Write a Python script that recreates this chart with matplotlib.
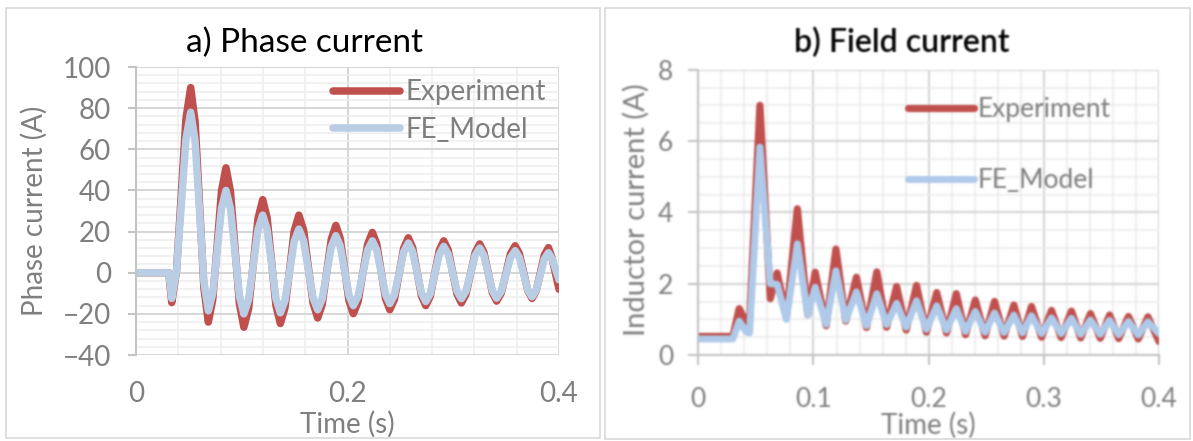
import numpy as np
import matplotlib
matplotlib.use("Agg")
import matplotlib.pyplot as plt
from matplotlib.ticker import MultipleLocator
from matplotlib.patches import Rectangle

plt.rcParams['font.family'] = ['Lato', 'DejaVu Sans']

# ---- a) Phase current (A) versus time (s) ----
time_a = [0, 0.031, 0.0338, 0.0383, 0.0428, 0.0472, 0.0517, 0.0559, 0.0601,
          0.0642, 0.0684, 0.0726, 0.0768, 0.0809, 0.0851, 0.0893, 0.0936,
          0.0978, 0.102, 0.1065, 0.1109, 0.1154, 0.1198, 0.124, 0.1282, 0.1323,
          0.1365, 0.1409, 0.1453, 0.1496, 0.154, 0.1585, 0.1629, 0.1674,
          0.1718, 0.1761, 0.1804, 0.1847, 0.189, 0.1931, 0.1973, 0.2014,
          0.2055, 0.21, 0.2145, 0.219, 0.2235, 0.2276, 0.2318, 0.2359, 0.240,
          0.2444, 0.2488, 0.2531, 0.2575, 0.2616, 0.2658, 0.2699, 0.274,
          0.2783, 0.2825, 0.2868, 0.291, 0.2952, 0.2994, 0.3035, 0.3077, 0.312,
          0.3164, 0.3207, 0.325, 0.329, 0.333, 0.337, 0.341, 0.3454, 0.3498,
          0.3541, 0.3585, 0.3625, 0.3665, 0.3705, 0.3745, 0.3784, 0.3823,
          0.3861, 0.390, 0.3935, 0.4]
phase_exp = [0, 0, -14.5, 0.8, 37.8, 74.7, 90, 73.3, 33, -7.3, -24, -13.0,
             13.5, 40.0, 51, 39.6, 12.3, -15.1, -26.5, -17.4, 4.5, 26.4, 35.5,
             26.7, 5.4, -15.9, -24.7, -17.0, 1.7, 20.3, 28, 20.7, 3, -14.7, -22,
             -15.4, 0.5, 16.4, 23, 16.7, 1.6, -13.6, -19.9, -14.1, -0.2, 13.8,
             19.6, 14.1, 0.8, -12.5, -18, -12.9, -0.5, 11.9, 17, 12.2, 0.5,
             -11.2, -16, -11.4, -0.3, 10.9, 15.5, 11.1, 0.4, -10.3, -14.7,
             -10.5, -0.4, 9.8, 14, 9.9, 0.1, -9.7, -13.8, -9.9, -0.4, 9.2, 13.1,
             9.3, 0.3, -8.7, -12.5, -8.9, -0.2, 8.6, 12.2, 7.0, -8]
phase_fe = [0, 0, -12.5, 0.8, 32.8, 64.8, 78, 63.9, 29.8, -4.4, -18.5, -9.9,
            10.8, 31.4, 40, 31.2, 10, -11.2, -20, -13, 4, 21, 28, 21.0, 4.3,
            -12.5, -19.5, -13.5, 0.9, 15.2, 21.2, 15.5, 1.6, -12.3, -18, -12.7,
            0, 12.7, 18, 13, 1, -11, -16, -11.4, -0.3, 10.9, 15.5, 11.0, 0.3,
            -10.5, -15, -10.7, -0.3, 10.1, 14.4, 10.2, 0.2, -9.8, -14, -10.1,
            -0.6, 8.9, 12.8, 9.1, 0.1, -8.9, -12.6, -9.0, -0.3, 8.4, 12, 8.4,
            -0.2, -8.8, -12.4, -9.0, -0.9, 7.3, 10.7, 7.4, -0.5, -8.4, -11.7,
            -8.6, -1, 6.6, 9.7, 6.7, -3.4]
xticks_a = [0, 0.2, 0.4]
xtick_labels_a = ['0', '0.2', '0.4']
yticks_a = [-40, -20, 0, 20, 40, 60, 80, 100]

# ---- b) Field (inductor) current (A) versus time (s) ----
time_b = [0, 0.030, 0.0355, 0.0415, 0.0445, 0.0535, 0.0625, 0.0685, 0.0765,
          0.086, 0.095, 0.1015, 0.111, 0.1195, 0.128, 0.1373, 0.146, 0.155,
          0.1635, 0.1722, 0.1805, 0.1895, 0.198, 0.207, 0.2155, 0.224, 0.232,
          0.2405, 0.249, 0.2572, 0.2655, 0.274, 0.2815, 0.2893, 0.298, 0.3067,
          0.315, 0.324, 0.332, 0.3405, 0.349, 0.3571, 0.365, 0.3735, 0.382,
          0.3904, 0.4]
field_exp = [0.52, 0.52, 1.3, 0.92, 0.95, 7.0, 1.58, 2.3, 1.08, 4.1, 1.13, 2.32,
             0.82, 2.97, 0.95, 2.18, 0.77, 2.33, 0.78, 1.92, 0.70, 1.95, 0.64,
             1.75, 0.62, 1.72, 0.57, 1.54, 0.54, 1.5, 0.53, 1.4, 0.52, 1.36,
             0.5, 1.25, 0.49, 1.23, 0.48, 1.16, 0.47, 1.12, 0.46, 1.08, 0.45,
             1.07, 0.38]
field_fe = [0.45, 0.45, 0.95, 0.65, 0.62, 5.83, 2.0, 1.98, 1.0, 3.12, 1.12, 1.9,
            0.86, 2.36, 0.98, 1.77, 0.82, 1.72, 0.85, 1.45, 0.78, 1.52, 0.72,
            1.38, 0.7, 1.3, 0.66, 1.22, 0.64, 1.18, 0.63, 1.12, 0.62, 1.1, 0.6,
            1.04, 0.6, 1.03, 0.58, 0.98, 0.58, 0.97, 0.57, 0.94, 0.56, 0.93, 0.6]
xticks_b = [0, 0.1, 0.2, 0.3, 0.4]
xtick_labels_b = ['0', '0.1', '0.2', '0.3', '0.4']
yticks_b = [0, 2, 4, 6, 8]

series_names = ['Experiment', 'FE_Model']
RED = '#C0504D'
BLUE_A = '#B9CDE5'
BLUE_B = '#AFCAEA'
GREY_TXT = '#7f7f7f'
AXIS_GREY = '#c4c4c4'

W, H = 1193, 441
fig = plt.figure(figsize=(W / 100, H / 100), dpi=100)


def box(x0, y0, x1, y1):
    return [x0 / W, 1 - y1 / H, (x1 - x0) / W, (y1 - y0) / H]


def _smooth(arr, kernel):
    r = len(kernel) // 2
    h, w = arr.shape[:2]
    out = np.zeros_like(arr)
    padded = np.pad(arr, ((r, r), (0, 0), (0, 0)), mode='edge')
    for i, kv in enumerate(kernel):
        out += kv * padded[i:i + h]
    out2 = np.zeros_like(arr)
    padded = np.pad(out, ((0, 0), (r, r), (0, 0)), mode='edge')
    for i, kv in enumerate(kernel):
        out2 += kv * padded[:, i:i + w]
    return out2


def soft_focus(img, dpi, sigma=0.9):
    """Gentle gaussian softening used for the scanned-looking right panel."""
    pad = 4
    xs = np.arange(-3, 4)
    kernel = np.exp(-xs ** 2 / (2 * sigma ** 2))
    kernel /= kernel.sum()
    a = np.pad(img, ((pad, pad), (pad, pad), (0, 0)), mode='constant')
    alpha = a[..., 3:4]
    pre = np.concatenate([a[..., :3] * alpha, alpha], axis=2)
    pre = _smooth(pre, kernel)
    al = pre[..., 3:4]
    rgb = np.where(al > 1e-6, pre[..., :3] / np.maximum(al, 1e-6), 1.0)
    out = np.concatenate([np.clip(rgb, 0, 1), np.clip(al, 0, 1)], axis=2)
    return out, -pad, -pad


# panel frames
for (x0, y0, x1, y1) in [(6, 8, 600, 438), (605, 8, 1190, 439)]:
    fig.add_artist(Rectangle((x0 / W, 1 - y1 / H), (x1 - x0) / W, (y1 - y0) / H,
                             transform=fig.transFigure, fill=False,
                             ec='#d9d9d9', lw=1.2))


def style_axes(ax):
    ax.set_axisbelow(True)
    for s in ['top', 'right', 'bottom']:
        ax.spines[s].set_visible(False)
    ax.spines['left'].set_color(AXIS_GREY)
    ax.spines['left'].set_linewidth(1.5)


# ---------------- a) ----------------
ax_a = fig.add_axes(box(136, 67, 559, 355))
style_axes(ax_a)
ax_a.plot(time_a, phase_exp, color=RED, lw=5.4, solid_capstyle='round',
          solid_joinstyle='round', label=series_names[0])
ax_a.plot(time_a, phase_fe, color=BLUE_A, lw=5.4, solid_capstyle='round',
          solid_joinstyle='round', label=series_names[1])
ax_a.set_xlim(0, 0.4)
ax_a.set_ylim(-40, 100)
ax_a.set_xticks(xticks_a, xtick_labels_a)
ax_a.xaxis.set_minor_locator(MultipleLocator(0.04))
ax_a.set_yticks(yticks_a)
ax_a.yaxis.set_minor_locator(MultipleLocator(4))
ax_a.grid(which='major', color='#d6d6d6', lw=1.4)
ax_a.grid(which='minor', color='#eeeeee', lw=1.1)
ax_a.tick_params(axis='y', which='major', length=6, width=1.5, color=AXIS_GREY,
                 labelsize=20, labelcolor=GREY_TXT, pad=12)
ax_a.tick_params(axis='x', which='major', length=0, labelsize=20,
                 labelcolor=GREY_TXT, pad=19)
ax_a.tick_params(which='minor', length=0)
ax_a.set_xlabel('Time (s)', fontsize=20, color=GREY_TXT)
ax_a.xaxis.label.set_va('center')
ax_a.xaxis.set_label_coords(0.5, (355 - 424) / 288)
ax_a.set_ylabel('Phase current (A)', fontsize=20, color=GREY_TXT)
ax_a.yaxis.label.set_va('center')
ax_a.yaxis.set_label_coords((34 - 136) / 423, 0.5)
ax_a.legend(loc='upper left', bbox_to_anchor=(0.466, 0.957), frameon=False,
            fontsize=20, labelcolor=GREY_TXT, handlelength=2.4,
            handletextpad=0.2, labelspacing=0.42, borderpad=0, borderaxespad=0)
fig.text(304 / W, 1 - 43 / H, 'a) Phase current', ha='center', va='center',
         fontsize=24, color='black')

# ---------------- b) ----------------
ax_b = fig.add_axes(box(698.3, 69.7, 1159, 355))
style_axes(ax_b)
ax_b.spines['bottom'].set_visible(True)
ax_b.spines['bottom'].set_color(AXIS_GREY)
ax_b.spines['bottom'].set_linewidth(1.5)
ax_b.plot(time_b, field_exp, color=RED, lw=5.2, solid_capstyle='round',
          solid_joinstyle='round', label=series_names[0])
ax_b.plot(time_b, field_fe, color=BLUE_B, lw=5.0, solid_capstyle='round',
          solid_joinstyle='round', label=series_names[1])
ax_b.set_xlim(0, 0.4)
ax_b.set_ylim(0, 8)
ax_b.set_xticks(xticks_b, xtick_labels_b)
ax_b.xaxis.set_minor_locator(MultipleLocator(0.02))
ax_b.set_yticks(yticks_b)
ax_b.yaxis.set_minor_locator(MultipleLocator(0.5))
ax_b.grid(which='major', color='#d6d6d6', lw=1.5)
ax_b.grid(which='minor', color='#ebebeb', lw=1.1)
ax_b.tick_params(axis='both', which='major', length=7, width=1.5,
                 color=AXIS_GREY, labelsize=19, labelcolor=GREY_TXT)
ax_b.tick_params(axis='y', which='major', pad=11)
ax_b.tick_params(axis='x', which='major', pad=16)
ax_b.tick_params(which='minor', length=0)
ax_b.set_xlabel('Time (s)', fontsize=20, color=GREY_TXT)
ax_b.xaxis.label.set_va('center')
ax_b.xaxis.set_label_coords(0.5, (355 - 425) / 285.3)
ax_b.set_ylabel('Inductor current (A)', fontsize=21, color=GREY_TXT)
ax_b.yaxis.label.set_va('center')
ax_b.yaxis.set_label_coords((636 - 698.3) / 460.7, (355 - 210) / 285.3)
ax_b.legend(loc='upper left', bbox_to_anchor=(0.455, 0.905), frameon=False,
            fontsize=19, labelcolor=GREY_TXT, handlelength=2.5,
            handletextpad=0.15, labelspacing=1.75, borderpad=0, borderaxespad=0)
ax_b.set_agg_filter(soft_focus)
title_b = fig.text(902 / W, 1 - 43 / H, 'b) Field current', ha='center',
                   va='center', fontsize=23, fontweight='semibold',
                   color='black')
title_b.set_agg_filter(soft_focus)

fig.savefig('out.png', dpi=100)
